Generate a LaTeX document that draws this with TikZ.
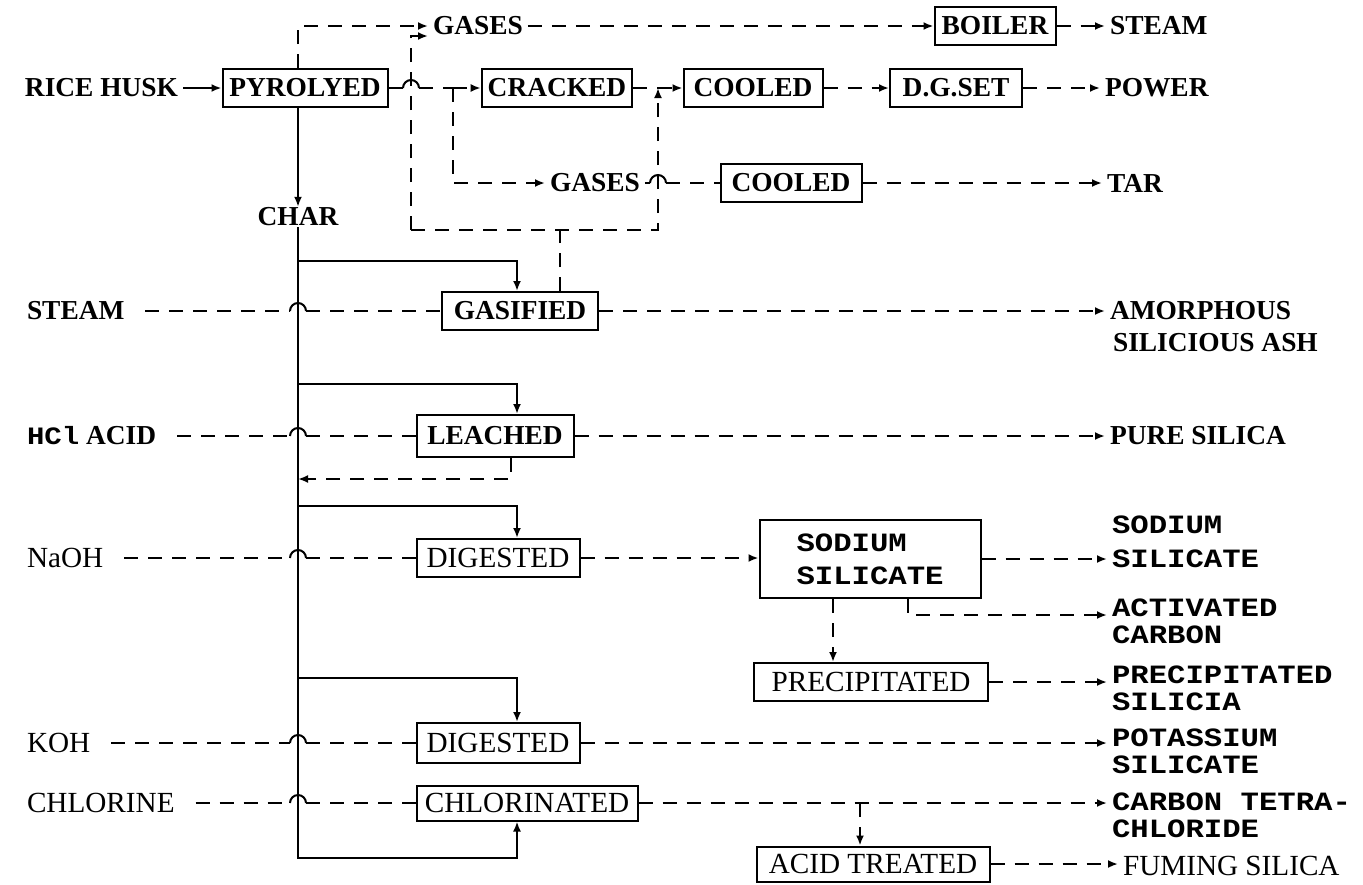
\documentclass[tikz,border=0pt]{standalone}
\usepackage{fontspec}
\setmainfont{Liberation Serif}
\newfontfamily\typefont[FakeStretch=1.16]{Liberation Mono}
\usetikzlibrary{arrows.meta,calc}

\begin{document}
\begin{tikzpicture}[x=0.5pt, y=-0.5pt, line width=1pt,
  box/.style={draw, minimum height=19pt, inner xsep=3pt, inner ysep=0pt, font=\bfseries\fontsize{13.7}{16}\selectfont},
  lbox/.style={box, font=\fontsize{14.6}{16}\selectfont},
  txt/.style={inner xsep=2pt, inner ysep=0pt, anchor=west, font=\bfseries\fontsize{13.7}{16}\selectfont},
  ltxt/.style={txt, font=\fontsize{14.6}{16}\selectfont},
  ttxt/.style={txt, font=\typefont\bfseries\fontsize{13.2}{15}\selectfont},
  feed/.style={-{Latex[length=5pt,width=4pt]}},
  dline/.style={dash pattern=on 7pt off 5pt},
  flow/.style={dline, feed},
  hop/.style={insert path={arc[start angle=180, end angle=0, radius=4pt]}}]
  \useasboundingbox (0,0) rectangle (1363,884);

  % pyrolysis and gas lines
  \node[txt] (husk) at (20,88) {RICE HUSK};
  \node[box, minimum width=82.5pt] (pyro) at (305,88) {PYROLYED};
  \node[txt, anchor=center] (char) at (298,217) {CHAR};
  \node[txt] (gasA) at (428,26) {GASES};
  \node[box, minimum width=60.5pt] (boiler) at (995,26) {BOILER};
  \node[txt] (steamOut) at (1105,26) {STEAM};
  \node[box, minimum width=75pt] (crack) at (557,88) {CRACKED};
  \node[box, minimum width=69.5pt] (coolA) at (753,88) {COOLED};
  \node[box, minimum width=66pt] (dgset) at (956,88) {D.G.SET};
  \node[txt] (power) at (1100,88) {POWER};
  \node[txt] (gasB) at (545,183) {GASES};
  \node[box, minimum width=70.5pt] (coolB) at (791,183) {COOLED};
  \node[txt] (tar) at (1102,183) {TAR};
  \coordinate (lpA) at (411,230);
  \coordinate (lpB) at (658,230);
  \coordinate (jA) at (453,88);
  \coordinate (jB) at (658,88);

  \draw[feed] (husk) -- (pyro);
  \draw[feed] (pyro.south -| char) -- (char);
  \draw[flow] (pyro.north -| char) |- (gasA);
  \draw[flow] (gasA) -- (boiler);
  \draw[flow] (boiler) -- (steamOut);
  \draw[dline] (pyro) -- ([xshift=-4pt]lpA |- pyro);
  \draw ([xshift=-4pt]lpA |- pyro) [hop];
  \draw[dline] ([xshift=4pt]lpA |- pyro) -- (jA);
  \draw[flow] (jA) -- (crack);
  \draw[flow] (jA) |- (gasB);
  \draw[dline] (crack) -- (jB);
  \draw[flow] (jB) -- (coolA);
  \draw[flow] (coolA) -- (dgset);
  \draw[flow] (dgset) -- (power);
  \draw[flow] (lpA) |- ([yshift=-5pt]gasA.west);
  \draw[flow] (lpA) -- (lpB) -- (jB);
  \draw[dline] (gasB) -- ([xshift=-4pt]lpB |- gasB);
  \draw ([xshift=-4pt]lpB |- gasB) [hop];
  \draw[dline] ([xshift=4pt]lpB |- gasB) -- (coolB);
  \draw[flow] (coolB) -- (tar);

  % char treatments
  \node[txt] (steamIn) at (22,311) {STEAM};
  \node[box, minimum width=78pt] (gasif) at (520,311) {GASIFIED};
  \node[txt] (amorph) at (1105,311) {AMORPHOUS};
  \node[txt] (amorphB) at (1108,343) {SILICIOUS ASH};
  \node[txt] (acid) at (22,436) {{\typefont\fontsize{12.5}{15}\selectfont HCl} ACID};
  \node[box, minimum width=78.5pt, minimum height=21pt] (leach) at (495,436) {LEACHED};
  \node[txt] (pure) at (1105,436) {PURE SILICA};
  \node[ltxt] (naoh) at (22,558) {NaOH};
  \node[lbox, minimum width=81.5pt] (digA) at (498,558) {DIGESTED};
  \node[box, font=\typefont\bfseries\fontsize{13.2}{16.5}\selectfont, align=left, minimum width=110.5pt, minimum height=39pt] (sodium) at (870,559) {SODIUM\\SILICATE};
  \node[ttxt] (sodA) at (1107,525) {SODIUM};
  \node[ttxt] (sodB) at (1107,559) {SILICATE};
  \node[ttxt] (actA) at (1107,608) {ACTIVATED};
  \node[ttxt] (actB) at (1107,635) {CARBON};
  \node[lbox, minimum width=117pt] (precip) at (871,682) {PRECIPITATED};
  \node[ttxt] (preA) at (1107,675) {PRECIPITATED};
  \node[ttxt] (preB) at (1107,702) {SILICIA};
  \node[ltxt] (koh) at (22,743) {KOH};
  \node[lbox, minimum width=81.5pt, minimum height=20pt] (digB) at (498,743) {DIGESTED};
  \node[ttxt] (potA) at (1107,738) {POTASSIUM};
  \node[ttxt] (potB) at (1107,765) {SILICATE};
  \node[ltxt] (chlorine) at (22,803) {CHLORINE};
  \node[lbox, minimum width=110.5pt, minimum height=17.5pt] (chlor) at (527,803) {CHLORINATED};
  \node[ttxt] (tetA) at (1107,802) {CARBON TETRA-};
  \node[ttxt] (tetB) at (1107,829) {CHLORIDE};
  \node[lbox, minimum width=116.5pt, minimum height=17.5pt] (acidT) at (873,864) {ACID TREATED};
  \node[ltxt] (fume) at (1118,866) {FUMING SILICA};
  \coordinate (drop) at (517,0);
  \coordinate (base) at (298,858);

  \draw[dline] ([xshift=20pt]gasif.north) -- ([xshift=20pt]gasif.north |- lpA);
  \foreach \b/\h in {gasif/15pt, leach/15pt, digA/16pt, digB/22pt}
    \draw[feed] ([yshift=\h]\b.north -| char) -| (drop |- \b.north);
  \draw[feed] (char) -- (base) -| (drop |- chlor.south);
  \foreach \l/\b in {steamIn/gasif, acid/leach, naoh/digA, koh/digB, chlorine/chlor} {
    \draw[dline] ([xshift=8pt]\l.east) -- ([xshift=-4pt]char |- \l.east);
    \draw ([xshift=-4pt]char |- \l.east) [hop];
    \draw[dline] ([xshift=4pt]char |- \l.east) -- (\b.west);
  }

  \draw[flow] (gasif.east) -- (gasif.east -| amorph.west);
  \draw[flow] (leach.east) -- (leach.east -| pure.west);
  \draw[flow] ([xshift=8pt]leach.south) |- ([yshift=-10.5pt]leach.south -| char);
  \draw[flow] (digA.east) -- (digA.east -| sodium.west);
  \draw[flow] (sodium.east) -- (sodium.east -| sodB.west);
  \draw[flow] ([xshift=19pt]sodium.south) |- ([yshift=-3.5pt]actA.west);
  \draw[flow] ([xshift=-18.5pt]sodium.south) -- ([xshift=-18.5pt]sodium.south |- precip.north);
  \draw[flow] (precip.east) -- (precip.east -| preA.west);
  \draw[flow] (digB.east) -- (digB.east -| potA.west);
  \draw[flow] (chlor.east) -- (chlor.east -| tetA.west);
  \draw[flow] ([xshift=-6.5pt]acidT.north |- chlor.east) -- ([xshift=-6.5pt]acidT.north);
  \draw[flow] (acidT.east) -- (acidT.east -| fume.west);
\end{tikzpicture}
\end{document}
